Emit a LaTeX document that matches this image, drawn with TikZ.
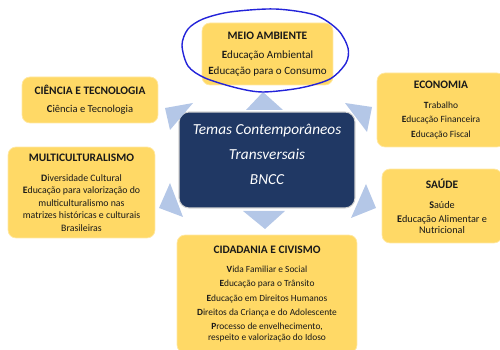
\documentclass[tikz,border=0pt]{standalone}
\usepackage{fontspec}
\setmainfont{Carlito}
\usepackage{tikz}
\definecolor{amarelo}{HTML}{FFD966}
\definecolor{marinho}{HTML}{203864}
\definecolor{setaazul}{HTML}{B4C7E7}
\definecolor{caneta}{HTML}{2323D9}
\newcommand{\titulo}[1]{{\fontsize{6.5}{8.2}\selectfont\bfseries #1}}

\begin{document}
\begin{tikzpicture}[
            x=0.02cm, y=-0.02cm,
            tema/.style={
                fill=amarelo,
                draw=amarelo!60,
                rounded corners=0.16cm,
                align=center,
                text=black!90,
                inner sep=0pt
            },
            centro/.style={
                fill=marinho,
                draw=gray!35,
                line width=0.6pt,
                rounded corners=0.2cm,
                minimum width=3.52cm,
                minimum height=1.92cm
            },
            seta/.style={fill=setaazul}
        ]
        \clip (0,0) rectangle (500,350);
        \node[centro] (centro) at (267,160) {};
        \node[font=\fontsize{8.7}{14.2}\selectfont\itshape, text=white, align=center] (temas) at (267,154) {Temas Contemporâneos\\ Transversais\\ BNCC};
        \fill[seta] (246,110) -- (263,92) -- (283,110) -- cycle;
        \fill[seta] (243,211) -- (265,229) -- (285,211) -- cycle;
        \fill[seta] (165,108) -- (193,103) -- (170,130) -- cycle;
        \fill[seta] (345,103) -- (372,107) -- (367,132) -- cycle;
        \fill[seta] (170,183) -- (159,208) -- (183,217) -- cycle;
        \fill[seta] (366,184) -- (376,208) -- (351,218) -- cycle;
        \node[tema, minimum width=2.62cm, minimum height=1.24cm, font=\fontsize{6.3}{9}\selectfont] (meio) at (267.5,54) {\titulo{MEIO AMBIENTE}\\[1.7pt] \textbf{E}ducação Ambiental\\ \textbf{E}ducação para o Consumo};
        \node[tema, minimum width=2.72cm, minimum height=0.92cm, font=\fontsize{6}{8.2}\selectfont] (ciencia) at (90,100) {\titulo{CIÊNCIA E TECNOLOGIA}\\[2pt] \textbf{C}iência e Tecnologia};
        \node[tema, minimum width=2.94cm, minimum height=1.82cm, font=\fontsize{5.6}{7.1}\selectfont] (multi) at (81.5,192.5) {\titulo{MULTICULTURALISMO}\\[4.2pt] \textbf{D}iversidade Cultural\\ \textbf{E}ducação para valorização do\\ multiculturalismo nas\\ matrizes históricas e culturais\\ Brasileiras};
        \node[tema, minimum width=2.56cm, minimum height=1.48cm, font=\fontsize{5.4}{8.2}\selectfont] (economia) at (441,110) {\titulo{ECONOMIA}\\[3pt] \textbf{T}rabalho\\ \textbf{E}ducação Financeira\\ \textbf{E}ducação Fiscal};
        \node[tema, minimum width=2.4cm, minimum height=1.48cm, font=\fontsize{5.8}{7.9}\selectfont] (saude) at (442,206) {\titulo{SAÚDE}\\[3.5pt] \textbf{S}aúde\\ \textbf{E}ducação Alimentar e\\[-1.8pt] Nutricional};
        \node[tema, minimum width=3.6cm, minimum height=2.36cm, font=\fontsize{5.35}{8.2}\selectfont] (cidadania) at (267,294) {\titulo{CIDADANIA E CIVISMO}\\[2.8pt] \textbf{V}ida Familiar e Social\\ \textbf{E}ducação para o Trânsito\\ \textbf{E}ducação em Direitos Humanos\\ \textbf{D}ireitos da Criança e do Adolescente\\ \textbf{P}rocesso de envelhecimento,\\[-2pt] respeito e valorização do Idoso};
        \draw[caneta, line width=0.8pt] plot[smooth cycle] coordinates {(182,45) (188,66) (205,78) (237,88) (263,92) (300,88) (330,79) (346,63) (348,48) (338,30) (315,15) (275,9) (230,12) (203,19) (188,29)};
\end{tikzpicture}
\end{document}
